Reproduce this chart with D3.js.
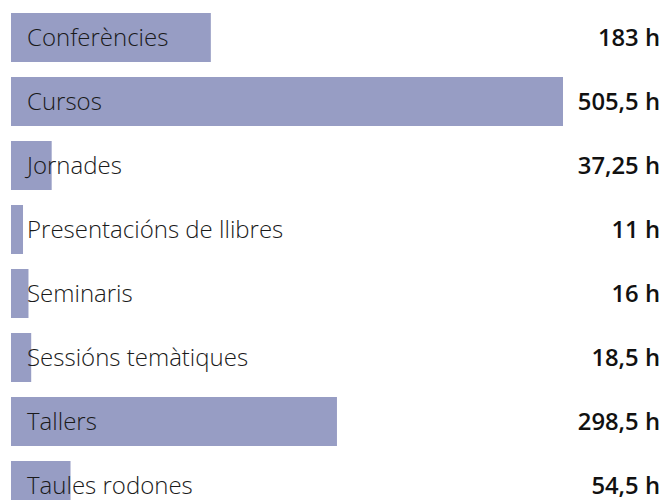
<!DOCTYPE html>
<html>
<head>
<meta charset="utf-8">
<script src="https://cdn.jsdelivr.net/npm/d3@7"></script>
<style>
  body { margin: 0; background: #fff; }
  svg { display: block; }
</style>
</head>
<body>
<div id="chart"></div>
<script>
// chart data
var categories = ["Conferències", "Cursos", "Jornades", "Presentacións de llibres",
    "Seminaris", "Sessións temàtiques", "Tallers", "Taules rodones"];
var hours = [183, 505.5, 37.25, 11, 16, 18.5, 298.5, 54.5];
var valueLabels = ["183 h", "505,5 h", "37,25 h", "11 h", "16 h", "18,5 h", "298,5 h", "54,5 h"];

var svgWidth = 664;
var svgHeight = 500;

var svg = d3.select("#chart")
    .append("svg")
    .attr("width", svgWidth)
    .attr("height", svgHeight);

var rows = categories.map(function(c, i) {
    return { name: c, value: hours[i], label: valueLabels[i] };
});

// scales
var xScale = d3.scaleLinear()
    .domain([0, 505.5])
    .range([11, 563]);

var yScale = d3.scaleBand()
    .domain(categories)
    .range([13, 510])
    .paddingInner(15 / 64)
    .paddingOuter(0);

// bars
svg.selectAll("rect.bar")
    .data(rows)
    .enter()
    .append("rect")
    .attr("class", "bar")
    .attr("x", xScale(0))
    .attr("y", d => yScale(d.name))
    .attr("width", d => xScale(d.value) - xScale(0))
    .attr("height", yScale.bandwidth())
    .attr("fill", "#979dc4");

// category labels
svg.selectAll("text.cat")
    .data(rows)
    .enter()
    .append("text")
    .attr("class", "cat")
    .attr("x", 27)
    .attr("y", d => yScale(d.name) + yScale.bandwidth() / 2)
    .attr("dy", "0.35em")
    .attr("font-family", "'Open Sans', sans-serif")
    .attr("font-weight", 300)
    .attr("font-size", "24px")
    .attr("fill", "#1a1a1a")
    .text(d => d.name);

// value labels
svg.selectAll("text.val")
    .data(rows)
    .enter()
    .append("text")
    .attr("class", "val")
    .attr("x", 660)
    .attr("y", d => yScale(d.name) + yScale.bandwidth() / 2)
    .attr("dy", "0.35em")
    .attr("text-anchor", "end")
    .attr("font-family", "'Open Sans', sans-serif")
    .attr("font-weight", 600)
    .attr("font-size", "23.8px")
    .attr("fill", "#111")
    .text(d => d.label);
</script>
</body>
</html>
